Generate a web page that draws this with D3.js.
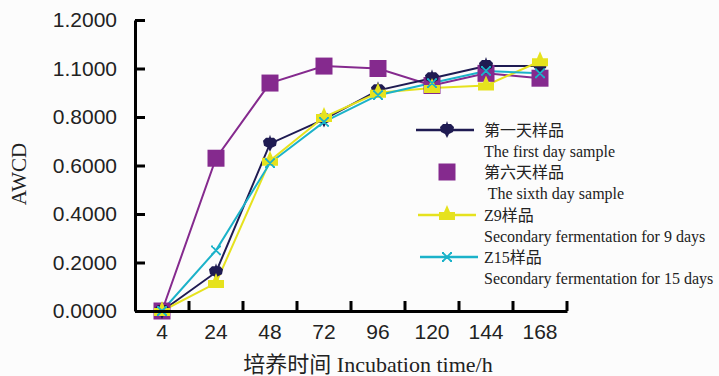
<!DOCTYPE html>
<html lang="zh">
<head>
<meta charset="UTF-8">
<title>AWCD</title>
<script src="https://d3js.org/d3.v7.min.js"></script>
<style>
  body { margin: 0; background: #fcfcfc; }
  svg { display: block; font-family: "Liberation Serif", "Noto Sans CJK SC", serif; }
  text { white-space: pre; }
</style>
</head>
<body>
<div id="chart"></div>
<script>
// incubation times (h) and AWCD readings per sample
const hours = ["4", "24", "48", "72", "96", "120", "144", "168"];
const firstDay = [0.00, 0.16, 0.69, 0.79, 0.91, 0.96, 1.01, 1.01];
const sixthDay = [0.00, 0.63, 0.94, 1.01, 1.00, 0.93, 0.98, 0.96];
const z9 = [0.00, 0.115, 0.62, 0.80, 0.90, 0.92, 0.93, 1.03];
const z15 = [0.00, 0.25, 0.61, 0.78, 0.89, 0.94, 0.99, 0.98];
const yTicks = [0, 0.2, 0.4, 0.6, 0.8, 1.0, 1.2];
const yTickLabels = ["0.0000", "0.2000", "0.4000", "0.6000", "0.8000", "1.1000", "1.2000"];

const series = [
  { zh: "第六天样品", en: " The sixth day sample", values: sixthDay, color: "#852a8e", marker: "square" },
  { zh: "第一天样品", en: "The first day sample", values: firstDay, color: "#1f1b52", marker: "pin" },
  { zh: "Z9样品", en: "Secondary fermentation for 9 days", values: z9, color: "#e6e21e", marker: "triangle" },
  { zh: "Z15样品", en: "Secondary fermentation for 15 days", values: z15, color: "#1bb2c9", marker: "cross" }
];
const legendOrder = [1, 0, 2, 3];

const W = 719, H = 376;
const svg = d3.select("#chart").append("svg")
  .attr("width", W).attr("height", H);

const x = d3.scaleBand().domain(hours).range([135, 567]).padding(0);
const y = d3.scaleLinear().domain([0, 1.2]).range([311, 20]);
const cx = h => x(h) + x.bandwidth() / 2;

// marker shapes
function markerPath(type) {
  if (type === "square") return "M-8.5,-8.5H8.5V8.5H-8.5Z";
  if (type === "pin") return "M-7,-3 L-4,-6 L-1,-6 L0,-9 L1,-6 L4,-6 L7,-3 L6,2 L2,4 L0,8 L-2,4 L-6,2 Z";
  if (type === "triangle") return "M0,-10 L3,-3 L8,-3 L8,5 L-8,5 L-8,-3 L-3,-3 Z";
  return null;
}
function drawMarker(g, type, color) {
  if (type === "cross") {
    g.append("path")
      .attr("d", "M-4,-4 L4,4 M-4,4 L4,-4 M-5,-4 H-3 M3,-4 H5 M-5,4 H-3 M3,4 H5")
      .attr("stroke", color).attr("stroke-width", 1.8).attr("fill", "none");
  } else {
    g.append("path").attr("d", markerPath(type)).attr("fill", color);
  }
}

// lines
const line = d3.line()
  .x((d, i) => cx(hours[i]))
  .y(d => y(d));

series.forEach(s => {
  svg.append("path")
    .datum(s.values)
    .attr("fill", "none")
    .attr("stroke", s.color)
    .attr("stroke-width", 2)
    .attr("d", line);
});
series.forEach(s => {
  s.values.forEach((v, i) => {
    const g = svg.append("g").attr("transform", `translate(${cx(hours[i])},${y(v)})`);
    drawMarker(g, s.marker, s.color);
  });
});

// y axis
const yAxis = svg.append("g")
  .attr("transform", "translate(135,0)")
  .call(d3.axisLeft(y).tickValues(yTicks)
    .tickFormat((d, i) => yTickLabels[i])
    .tickSizeInner(-10).tickSizeOuter(0).tickPadding(18));
yAxis.select(".domain").attr("stroke-width", 3);
yAxis.selectAll(".tick line").attr("stroke-width", 3);
yAxis.selectAll(".tick text").attr("font-size", 21).attr("fill", "#222");

// x axis
const xAxis = svg.append("g")
  .attr("transform", "translate(0,311)")
  .call(d3.axisBottom(x).tickSize(0).tickPadding(13));
xAxis.select(".domain").attr("stroke-width", 3);
xAxis.selectAll(".tick text").attr("font-size", 21).attr("fill", "#222");
xAxis.selectAll(".edge")
  .data(hours)
  .join("line")
  .attr("x1", d => x(d) + x.bandwidth())
  .attr("x2", d => x(d) + x.bandwidth())
  .attr("y1", 0).attr("y2", -10)
  .attr("stroke", "#000").attr("stroke-width", 3);

// axis titles
svg.append("text")
  .attr("transform", "translate(26,174) rotate(-90)")
  .attr("text-anchor", "middle")
  .attr("font-size", 21).attr("fill", "#222")
  .text("AWCD");
svg.append("text")
  .attr("x", 368).attr("y", 372)
  .attr("text-anchor", "middle")
  .attr("font-size", 22).attr("fill", "#222")
  .text("培养时间 Incubation time/h");

// legend
const legendY = [130, 172, 215, 257];
const lineSpan = [[416, 474], null, [418, 476], [420, 478]];
legendOrder.forEach((si, k) => {
  const s = series[si];
  const g = svg.append("g").attr("transform", `translate(0,${legendY[k]})`);
  if (s.marker !== "square") {
    g.append("line")
      .attr("x1", lineSpan[k][0]).attr("x2", lineSpan[k][1])
      .attr("stroke", s.color).attr("stroke-width", 2.5);
  }
  const m = g.append("g").attr("transform", "translate(447,0)");
  drawMarker(m, s.marker, s.color);
  g.append("text").attr("x", 484).attr("y", 6)
    .attr("font-size", 16).attr("fill", "#222").text(s.zh);
  g.append("text").attr("x", 484).attr("y", 27)
    .attr("font-size", 16).attr("fill", "#222").text(s.en);
});
</script>
</body>
</html>
